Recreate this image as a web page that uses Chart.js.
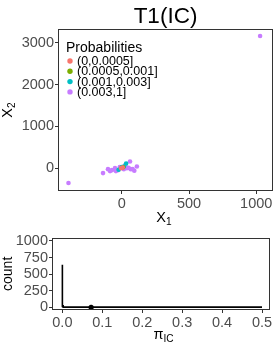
<!DOCTYPE html>
<html>
<head>
<meta charset="utf-8">
<script src="https://cdn.jsdelivr.net/npm/chart.js@4"></script>
<style>
  body { margin: 0; background: #fff; }
  #graficoTopo { position: absolute; left: 0; top: 0; }
  #graficoHist { position: absolute; left: 0; top: 228px; }
</style>
</head>
<body>
<canvas id="graficoTopo" width="277" height="228"></canvas>
<canvas id="graficoHist" width="277" height="118"></canvas>
<script>
// categorias de probabilidade
const categorias = ['(0,0.0005]', '(0.0005,0.001]', '(0.001,0.003]', '(0.003,1]'];

// X1 / X2 por categoria
const x1Cat1 = [-5, 7];
const x2Cat1 = [0, 12];
const x1Cat2 = [10];
const x2Cat2 = [20];
const x1Cat3 = [32, 15, -24, 0];
const x2Cat3 = [112, 40, -40, 24];
const x1Cat4 = [1029, -397, -140, 61, 112, 93, -103, -74, -51, -29, -15, 15, 37, 66, 81, -88, -44, 25, 50];
const x2Cat4 = [3167, -357, -119, 160, 40, -64, -24, -48, 0, -48, 24, -24, 0, -24, -24, -71, -71, 70, 10];

const ticksX1 = [0, 500, 1000];
const ticksX2 = [0, 1000, 2000, 3000];

// histograma de pi_IC (bordas e contagens)
const histBordas = [0, 0, 0.002, 0.008, 0.5];
const histContagem = [0, 640, 25, 4, 4];
const piObservado = [0.072];
const contObservado = [0];

const ticksPi = [0, 0.1, 0.2, 0.3, 0.4, 0.5];
const ticksCount = [0, 250, 500, 750, 1000];

const cores = ['#F8766D', '#7CAE00', '#00BFC4', '#C77CFF'];
const FONTE = '"Liberation Sans", Arial, sans-serif';

function pontos(xs, ys) {
  return xs.map((v, i) => ({ x: v, y: ys[i] }));
}

function textoSub(ctx, main, sub, x, y, size, girar) {
  ctx.save();
  ctx.translate(x, y);
  if (girar) ctx.rotate(-Math.PI / 2);
  ctx.fillStyle = '#000';
  ctx.textBaseline = 'middle';
  ctx.textAlign = 'left';
  ctx.font = size + 'px ' + FONTE;
  const w1 = ctx.measureText(main).width;
  ctx.font = (size * 0.7) + 'px ' + FONTE;
  const w2 = sub ? ctx.measureText(sub).width : 0;
  const ini = -(w1 + w2) / 2;
  ctx.font = size + 'px ' + FONTE;
  ctx.fillText(main, ini, 0);
  if (sub) {
    ctx.font = (size * 0.7) + 'px ' + FONTE;
    ctx.fillText(sub, ini + w1, size * 0.3);
  }
  ctx.restore();
}

const moldura = {
  id: 'moldura',
  afterDraw(chart) {
    const a = chart.chartArea, ctx = chart.ctx;
    ctx.save();
    ctx.strokeStyle = '#333333';
    ctx.lineWidth = 1;
    ctx.strokeRect(Math.round(a.left) + 0.5, Math.round(a.top) + 0.5,
      Math.round(a.right - a.left) - 1, Math.round(a.bottom - a.top) - 1);
    ctx.restore();
  }
};

const extrasTopo = {
  id: 'extrasTopo',
  afterDraw(chart) {
    const ctx = chart.ctx, a = chart.chartArea;
    ctx.save();
    ctx.fillStyle = '#000';
    ctx.font = '22.5px ' + FONTE;
    ctx.textAlign = 'center';
    ctx.textBaseline = 'alphabetic';
    ctx.fillText('T1(IC)', (a.left + a.right) / 2, 23);
    // legenda dentro do painel
    ctx.textAlign = 'left';
    ctx.font = '14px ' + FONTE;
    ctx.fillText('Probabilities', 66, 52);
    ctx.font = '12.5px ' + FONTE;
    ctx.textBaseline = 'middle';
    categorias.forEach((c, i) => {
      const y = 61 + i * 10.3;
      ctx.fillStyle = cores[i];
      ctx.beginPath();
      ctx.arc(70, y, 2.7, 0, Math.PI * 2);
      ctx.fill();
      ctx.fillStyle = '#000';
      ctx.fillText(c, 77, y + 0.5);
    });
    ctx.restore();
    textoSub(ctx, 'X', '1', 164, 218, 14.5, false);
    textoSub(ctx, 'X', '2', 8, (a.top + a.bottom) / 2, 14.5, true);
  }
};

const extrasHist = {
  id: 'extrasHist',
  afterDraw(chart) {
    const ctx = chart.ctx, a = chart.chartArea;
    textoSub(ctx, 'count', '', 8.5, (a.top + a.bottom) / 2, 14, true);
    textoSub(ctx, 'π', 'IC', 163.5, 107, 14.5, false);
  }
};

function eixo(ticks, min, max, fmt, tam) {
  return {
    type: 'linear',
    min: min,
    max: max,
    afterBuildTicks: s => { s.ticks = ticks.map(v => ({ value: v })); },
    afterFit: s => {
      if (s.isHorizontal()) s.height = tam; else s.width = tam;
    },
    grid: { drawOnChartArea: false, drawTicks: true, tickLength: 3, color: '#333333' },
    border: { display: false },
    ticks: {
      color: '#4D4D4D',
      font: { family: FONTE, size: 14.5 },
      padding: 1,
      maxRotation: 0,
      autoSkip: false,
      callback: fmt
    },
    title: { display: false }
  };
}

new Chart(document.getElementById('graficoTopo'), {
  type: 'scatter',
  data: {
    datasets: [
      { label: categorias[0], data: pontos(x1Cat1, x2Cat1), backgroundColor: cores[0] },
      { label: categorias[1], data: pontos(x1Cat2, x2Cat2), backgroundColor: cores[1] },
      { label: categorias[2], data: pontos(x1Cat3, x2Cat3), backgroundColor: cores[2] },
      { label: categorias[3], data: pontos(x1Cat4, x2Cat4), backgroundColor: cores[3] }
    ]
  },
  options: {
    responsive: false,
    animation: false,
    layout: { padding: { top: 29, right: 4, left: 0, bottom: 0 } },
    elements: { point: { radius: 2.3, borderWidth: 0, hoverRadius: 2.3 } },
    scales: {
      x: eixo(ticksX1, -475, 1125, v => String(v), 37),
      y: eixo(ticksX2, -548, 3333, v => String(v), 58)
    },
    plugins: { legend: { display: false }, title: { display: false }, tooltip: { enabled: false } }
  },
  plugins: [moldura, extrasTopo]
});

new Chart(document.getElementById('graficoHist'), {
  type: 'scatter',
  data: {
    datasets: [
      {
        label: 'observado',
        data: pontos(piObservado, contObservado),
        backgroundColor: '#000',
        pointRadius: 2.6
      },
      {
        label: 'count',
        data: pontos(histBordas, histContagem),
        showLine: true,
        stepped: 'after',
        borderColor: '#000',
        borderWidth: 1.6,
        pointRadius: 0
      }
    ]
  },
  options: {
    responsive: false,
    animation: false,
    layout: { padding: { top: 7, right: 7, left: 0, bottom: 0 } },
    scales: {
      x: eixo(ticksPi, -0.026, 0.52, v => v.toFixed(1), 36),
      y: eixo(ticksCount, -40, 1048, v => String(v), 52)
    },
    plugins: { legend: { display: false }, title: { display: false }, tooltip: { enabled: false } }
  },
  plugins: [moldura, extrasHist]
});
</script>
</body>
</html>
